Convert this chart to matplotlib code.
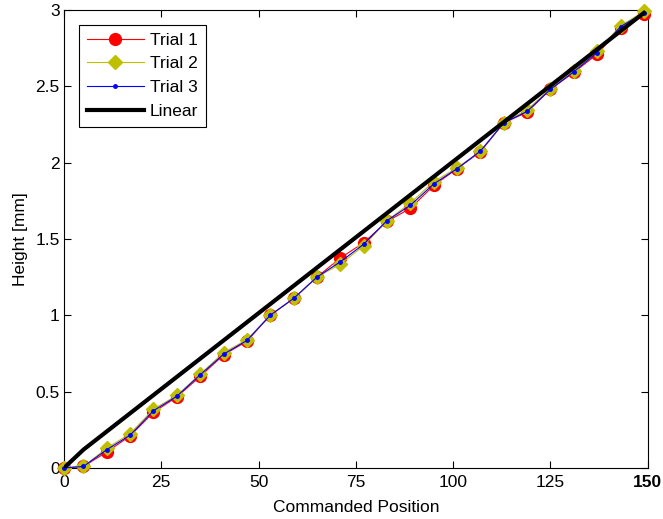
import matplotlib
matplotlib.use("Agg")
import matplotlib.pyplot as plt

plt.rcParams['font.family'] = ['Liberation Sans', 'DejaVu Sans']

position = [0, 5, 11, 17, 23, 29, 35, 41, 47, 53, 59, 65, 71, 77, 83, 89,
            95, 101, 107, 113, 119, 125, 131, 137, 143, 149]

trial1 = [0.0, 0.01, 0.105, 0.21, 0.365, 0.465, 0.60, 0.74, 0.83, 1.00, 1.11, 1.25,
          1.375, 1.475, 1.615, 1.70, 1.85, 1.96, 2.07, 2.26, 2.33, 2.48, 2.59,
          2.71, 2.88, 2.97]
trial2 = [0.0, 0.01, 0.13, 0.225, 0.385, 0.475, 0.615, 0.755, 0.84, 1.00, 1.11, 1.25,
          1.335, 1.455, 1.62, 1.735, 1.875, 1.965, 2.075, 2.26, 2.345, 2.485, 2.60,
          2.73, 2.895, 2.99]
trial3 = [0.0, 0.01, 0.12, 0.215, 0.375, 0.47, 0.61, 0.745, 0.835, 1.00, 1.11, 1.25,
          1.35, 1.465, 1.62, 1.72, 1.86, 1.96, 2.075, 2.26, 2.335, 2.48, 2.595,
          2.72, 2.89, 2.98]

linear_x = [0, 5, 149]
linear_y = [0.0, 0.12, 2.98]

fs = 12.5

fig = plt.figure(figsize=(6.63, 5.19), dpi=100)
ax = fig.add_axes([0.0965, 0.0983, 0.8805, 0.8827])

ax.plot(position, trial1, color='red', lw=0.8, marker='o', ms=8.5,
        mfc='red', mec='red', label='Trial 1', clip_on=False, zorder=3)
ax.plot(position, trial2, color=(0.75, 0.75, 0), lw=0.8, marker='D', ms=7,
        mfc=(0.75, 0.75, 0), mec=(0.75, 0.75, 0), label='Trial 2', clip_on=False, zorder=4)
ax.plot(position, trial3, color='blue', lw=0.8, marker='o', ms=2.5,
        mfc='blue', mec='blue', label='Trial 3', clip_on=False, zorder=5)
ax.plot(linear_x, linear_y, color='black', lw=3, label='Linear', zorder=6)

ax.set_xlim(0, 150)
ax.set_ylim(0, 3)
ax.set_xticks([0, 25, 50, 75, 100, 125, 150])
ax.set_yticks([0, 0.5, 1, 1.5, 2, 2.5, 3])
ax.set_yticklabels(['0', '0.5', '1', '1.5', '2', '2.5', '3'])
ax.tick_params(direction='in', top=True, right=True, labelsize=fs, length=5,
               width=0.8)
ax.tick_params(axis='x', pad=5)
ax.tick_params(axis='y', pad=3)
ax.get_xticklabels()[-1].set_fontweight('bold')
for s in ax.spines.values():
    s.set_linewidth(0.8)

ax.set_xlabel('Commanded Position', fontsize=fs, labelpad=7)
ax.set_ylabel('Height [mm]', fontsize=fs, labelpad=5)

leg = ax.legend(loc='upper left', fontsize=fs, fancybox=False, framealpha=1,
                edgecolor='black', borderaxespad=0.85, handlelength=3.3,
                labelspacing=0.5, borderpad=0.45, handletextpad=0.35)
leg.get_frame().set_linewidth(0.8)

fig.savefig('out.png', dpi=100)
